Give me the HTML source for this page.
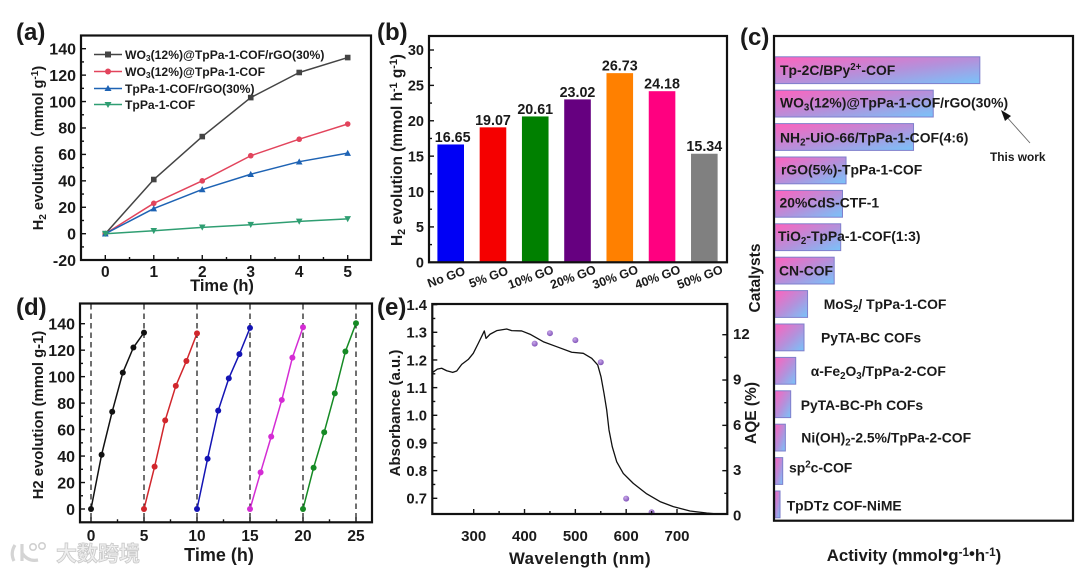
<!DOCTYPE html>
<html lang="en">
<head>
<meta charset="utf-8">
<title>Photocatalytic H2 evolution figure</title>
<style>
html,body{margin:0;padding:0;background:#fff;width:1080px;height:574px;overflow:hidden}
svg{display:block;filter:blur(.35px)}
text{font-family:"Liberation Sans","Noto Sans CJK SC",sans-serif;font-weight:bold;fill:#1a1a1a}
.frame{fill:none;stroke:#111;stroke-width:2.2}
.panel{font-size:24px}
.sub{font-size:70%}
</style>
</head>
<body>
<svg id="fig" width="1080" height="574" viewBox="0 0 1080 574" xmlns="http://www.w3.org/2000/svg">
<defs>
<linearGradient id="barGrad" x1="0" y1="0" x2="1" y2="1">
<stop offset="0" stop-color="#ff62bd"/>
<stop offset="0.55" stop-color="#b292dc"/>
<stop offset="1" stop-color="#78c4fa"/>
</linearGradient>
<radialGradient id="dotGrad" cx="0.4" cy="0.35" r="0.7">
<stop offset="0" stop-color="#c9a8ea"/>
<stop offset="1" stop-color="#7d4fb5"/>
</radialGradient>
</defs>

<g id="panelA">
<text class="panel" x="16" y="40">(a)</text>
<text x="222" y="291" font-size="16.5" text-anchor="middle">Time (h)</text>
<text transform="translate(43 148) rotate(-90)" font-size="14.5" text-anchor="middle">H<tspan class="sub" dy="3">2</tspan><tspan dy="-3"> evolution（mmol g</tspan><tspan class="sub" dy="-5">-1</tspan><tspan dy="5">)</tspan></text>
<g>
<g>
<line x1="94" x2="122" y1="54.5" y2="54.5" stroke="#444" stroke-width="1.5"/>
<rect x="105" y="51.5" width="6" height="6" fill="#444"/>
<text x="125" y="59" font-size="12.15">WO<tspan class="sub" dy="2">3</tspan><tspan dy="-2">(12%)@TpPa-1-COF/rGO(30%)</tspan></text>
</g>
<g>
<line x1="94" x2="122" y1="71.5" y2="71.5" stroke="#e2445c" stroke-width="1.5"/>
<circle cx="108" cy="71.5" r="3" fill="#e2445c"/>
<text x="125" y="76" font-size="12.15">WO<tspan class="sub" dy="2">3</tspan><tspan dy="-2">(12%)@TpPa-1-COF</tspan></text>
</g>
<g>
<line x1="94" x2="122" y1="88.5" y2="88.5" stroke="#1e63b4" stroke-width="1.5"/>
<polygon points="108,85 111.5,91 104.5,91" fill="#1e63b4"/>
<text x="125" y="93" font-size="12.15">TpPa-1-COF/rGO(30%)</text>
</g>
<g>
<line x1="94" x2="122" y1="104.5" y2="104.5" stroke="#2f9e72" stroke-width="1.5"/>
<polygon points="108,108 111.5,102 104.5,102" fill="#2f9e72"/>
<text x="125" y="109" font-size="12.15">TpPa-1-COF</text>
</g>
</g>
</g>

<g id="panelB">
<text class="panel" x="377" y="40">(b)</text>
<text transform="translate(402 150) rotate(-90)" font-size="15.4" text-anchor="middle">H<tspan class="sub" dy="3">2</tspan><tspan dy="-3"> evolution (mmol h</tspan><tspan class="sub" dy="-5">-1</tspan><tspan dy="5"> g</tspan><tspan class="sub" dy="-5">-1</tspan><tspan dy="5">)</tspan></text>
</g>

<g id="panelC">
<text class="panel" x="740" y="45">(c)</text>
<text transform="translate(760 278) rotate(-90)" font-size="15.5" text-anchor="middle">Catalysts</text>
<text x="914" y="561" font-size="16.8" text-anchor="middle">Activity (mmol<tspan dy="-2">•</tspan><tspan dy="2">g</tspan><tspan class="sub" dy="-5">-1</tspan><tspan dy="3">•</tspan><tspan dy="2">h</tspan><tspan class="sub" dy="-5">-1</tspan><tspan dy="5">)</tspan></text>
</g>

<g id="panelD">
<text class="panel" x="16" y="315">(d)</text>
<text x="219" y="561" font-size="18" text-anchor="middle">Time (h)</text>
<text transform="translate(43 415) rotate(-90)" font-size="14.8" text-anchor="middle">H2 evolution (mmol g-1)</text>
</g>

<g id="panelE">
<text class="panel" x="377" y="315">(e)</text>
<text x="580" y="564" font-size="16.8" text-anchor="middle" letter-spacing=".5">Wavelength (nm)</text>
<text transform="translate(400 413) rotate(-90)" font-size="15" text-anchor="middle">Absorbance (a.u.)</text>
<text transform="translate(756 413) rotate(-90)" font-size="15.5" text-anchor="middle">AQE (%)</text>
</g>

<g>
<path d="M15 545 Q10 553 14 561 M22 544 V561 M22 553 Q28 562 38 560" fill="none" stroke="#d4d4d4" stroke-width="3.2"/>
<circle cx="33" cy="547" r="3.2" fill="none" stroke="#d0d0d0" stroke-width="1.6"/>
<circle cx="42" cy="546" r="3.2" fill="none" stroke="#d0d0d0" stroke-width="1.6"/>
<text x="56" y="561" font-size="21" style="fill:#eeeeee;stroke:#c9c9c9;stroke-width:.8">大数跨境</text>
</g>
</svg>

<script>
// ---- Panel (a) data ----
const timeA = [0, 1, 2, 3, 4, 5];
const compositeH2 = [0, 41, 73.5, 103, 122, 133.3];
const wo3CofH2 = [0, 23, 40, 59, 71.5, 83];
const cofRgoH2 = [0, 19, 33.5, 45, 54.5, 61];
const cofH2 = [0, 2.2, 4.8, 6.8, 9.3, 11.2];
const ticksAY = [-20, 0, 20, 40, 60, 80, 100, 120, 140];

// ---- Panel (b) data ----
const goLoadings = ['No GO', '5% GO', '10% GO', '20% GO', '30% GO', '40% GO', '50% GO'];
const goRates = [16.65, 19.07, 20.61, 23.02, 26.73, 24.18, 15.34];
const goLabels = ['16.65', '19.07', '20.61', '23.02', '26.73', '24.18', '15.34'];
const ticksBY = [0, 5, 10, 15, 20, 25, 30];

// ---- Panel (c) data ----
const catalysts = ['Tp-2C/BPy^2+^-COF', 'WO~3~(12%)@TpPa-1-COF/rGO(30%)', 'NH~2~-UiO-66/TpPa-1-COF(4:6)', 'rGO(5%)-TpPa-1-COF', '20%CdS-CTF-1', 'TiO~2~-TpPa-1-COF(1:3)', 'CN-COF', 'MoS~2~/ TpPa-1-COF', 'PyTA-BC COFs', 'α-Fe~2~O~3~/TpPa-2-COF', 'PyTA-BC-Ph COFs', 'Ni(OH)~2~-2.5%/TpPa-2-COF', 'sp^2^c-COF', 'TpDTz COF-NiME'];
const activity = [34.6, 26.73, 23.4, 12.0, 11.4, 11.1, 10.0, 5.5, 4.9, 3.5, 2.65, 1.75, 1.3, 0.85];

// ---- Panel (d) data ----
const timeCycle = [0, 1, 2, 3, 4, 5];
const cycleStarts = [0, 5, 10, 15, 20];
const cycle1 = [0, 41, 73.5, 103, 122, 133.3];
const cycle2 = [0, 32, 67, 93, 111.8, 132.7];
const cycle3 = [0, 38, 74.3, 98.7, 117, 136.8];
const cycle4 = [0, 27.7, 54.7, 82.4, 114.4, 137.3];
const cycle5 = [0, 31.2, 58, 87.4, 119, 140.3];
const ticksDX = [0, 5, 10, 15, 20, 25];
const ticksDY = [0, 20, 40, 60, 80, 100, 120, 140];

// ---- Panel (e) data ----
const wavelengths = [219.3, 228.4, 237, 246.9, 258.7, 266.6, 276.4, 289.4, 299.2, 309, 320.9, 324.2, 332.1, 345.3, 364.9, 374.7, 394.4, 410.8, 436.9, 463.3, 492.8, 515.6, 532.2, 544, 550.5, 556.4, 561.7, 566.2, 572.7, 581.4, 594.3, 614, 640.4, 666.6, 692.7, 725.6, 758.4, 788, 799];
const absorbance = [1.155, 1.167, 1.17, 1.161, 1.155, 1.16, 1.184, 1.202, 1.224, 1.26, 1.305, 1.278, 1.293, 1.306, 1.312, 1.306, 1.305, 1.293, 1.266, 1.248, 1.228, 1.224, 1.206, 1.182, 1.139, 1.079, 1.019, 0.947, 0.886, 0.832, 0.79, 0.754, 0.716, 0.688, 0.67, 0.654, 0.647, 0.642, 0.643];
const aqeWavelengths = [420, 450, 500, 550, 600, 650];
const aqeValues = [11.41, 12.1, 11.64, 10.18, 1.15, 0.25];
const ticksEX = [300, 400, 500, 600, 700];
const ticksEY = ['0.7', '0.8', '0.9', '1.0', '1.1', '1.2', '1.3', '1.4'];
const ticksER = [0, 3, 6, 9, 12];

const NS = 'http://www.w3.org/2000/svg';
function mk(tag, attrs, parent) {
  const el = document.createElementNS(NS, tag);
  for (const k in attrs) el.setAttribute(k, attrs[k]);
  parent.appendChild(el);
  return el;
}
function linear(d0, d1, r0, r1) {
  return v => r0 + (v - d0) * (r1 - r0) / (d1 - d0);
}
function label(parent, str, x, y, size, anchor, name, transform) {
  const el = mk('text', {x: x, y: y, 'font-size': size, 'text-anchor': anchor}, parent);
  
  
  if (transform) el.setAttribute('transform', transform);
  const parts = str.split(/([~^][^~^]*[~^])/).filter(Boolean);
  let shift = 0;
  parts.forEach(p => {
    const ts = mk('tspan', {}, el);
    let want = 0;
    if (p[0] === '~') { want = 3; p = p.slice(1, -1); ts.setAttribute('class', 'sub'); }
    else if (p[0] === '^') { want = -5; p = p.slice(1, -1); ts.setAttribute('class', 'sub'); }
    if (want !== shift) ts.setAttribute('dy', want - shift);
    shift = want;
    ts.textContent = p;
  });
  return el;
}
function frame(parent, x0, y0, x1, y1, name) {
  const el = mk('rect', {x: x0, y: y0, width: x1 - x0, height: y1 - y0, class: 'frame'}, parent);
  
  
}
function tick(parent, x1, y1, x2, y2, name) {
  const el = mk('line', {x1: x1, y1: y1, x2: x2, y2: y2, stroke: '#111', 'stroke-width': 1.4}, parent);
  
  
}
function xTicks(parent, values, sx, yBase, yLabel, size, name) {
  values.forEach((v, i) => {
    tick(parent, sx(v), yBase, sx(v), yBase - 5, name + '-tick');
    if (i < values.length - 1) {
      const m = sx((v + values[i + 1]) / 2);
      tick(parent, m, yBase, m, yBase - 3, name + '-minor-tick');
    }
    label(parent, String(v), sx(v), yLabel, size, 'middle', name + '-tick-label');
  });
}
function yTicks(parent, values, sy, xBase, xLabel, size, name) {
  values.forEach((v, i) => {
    const n = Number(v);
    tick(parent, xBase, sy(n), xBase + 5, sy(n), name + '-tick');
    if (i < values.length - 1) {
      const m = sy((n + Number(values[i + 1])) / 2);
      tick(parent, xBase, m, xBase + 3, m, name + '-minor-tick');
    }
    label(parent, String(v), xLabel, sy(n) + size * 0.36, size, 'end', name + '-tick-label');
  });
}
function polyline(parent, xs, ys, sx, sy, color, width, name) {
  const d = xs.map((x, i) => (i ? 'L' : 'M') + sx(x).toFixed(2) + ' ' + sy(ys[i]).toFixed(2)).join('');
  const el = mk('path', {d: d, fill: 'none', stroke: color, 'stroke-width': width, 'stroke-linejoin': 'round'}, parent);
  
  
}
function marker(parent, kind, cx, cy, r, color, name) {
  let el;
  if (kind === 'square') el = mk('rect', {x: cx - r, y: cy - r, width: 2 * r, height: 2 * r, fill: color}, parent);
  else if (kind === 'circle') el = mk('circle', {cx: cx, cy: cy, r: r, fill: color}, parent);
  else if (kind === 'up') el = mk('polygon', {points: [cx, cy - r - 0.5, cx + r + 0.5, cy + r, cx - r - 0.5, cy + r].join(' '), fill: color}, parent);
  else el = mk('polygon', {points: [cx, cy + r + 0.5, cx + r + 0.5, cy - r, cx - r - 0.5, cy - r].join(' '), fill: color}, parent);
  
  
}

// Panel (a)
(function () {
  const g = document.getElementById('panelA');
  const sx = linear(0, 5, 105.3, 347.7);
  const sy = linear(0, 140, 233.7, 48.7);
  const series = [
    [compositeH2, '#444444', 'square', 'series-composite'],
    [wo3CofH2, '#e2445c', 'circle', 'series-wo3-cof'],
    [cofRgoH2, '#1e63b4', 'up', 'series-cof-rgo'],
    [cofH2, '#2f9e72', 'down', 'series-cof']
  ];
  series.forEach(s => {
    polyline(g, timeA, s[0], sx, sy, s[1], 1.5, s[3] + '-line');
    timeA.forEach((t, i) => marker(g, s[2], sx(t), sy(s[0][i]), 2.8, s[1], s[3] + '-point'));
  });
  frame(g, 81, 35.5, 371, 260, 'panel-a-frame');
  xTicks(g, timeA, sx, 260, 277, 15.5, 'panel-a-x');
  yTicks(g, ticksAY, sy, 81, 76, 16, 'panel-a-y');
})();

// Panel (b)
(function () {
  const g = document.getElementById('panelB');
  const sy = linear(0, 30, 262.3, 50);
  const cx = i => 450.7 + i * 42.27;
  goRates.forEach((v, i) => {
    const colors = ['#0000f5', '#f50000', '#008000', '#660080', '#ff8000', '#ff0080', '#808080'];
    const bar = mk('rect', {x: cx(i) - 13.3, y: sy(v), width: 26.6, height: sy(0) - sy(v), fill: colors[i]}, g);
    
    
    label(g, goLabels[i], cx(i) + (i === 0 ? 2 : 0), sy(v) - 2.5, 14.3, 'middle', 'go-bar-value');
    const lx = cx(i) - 3, ly = 281;
    label(g, goLoadings[i], lx, ly, 12.4, 'middle', 'go-category-label', 'rotate(-20 ' + lx + ' ' + ly + ')');
  });
  frame(g, 429, 36, 727, 262.3, 'panel-b-frame');
  yTicks(g, ticksBY, sy, 429, 424, 14.5, 'panel-b-y');
})();

// Panel (c)
(function () {
  const g = document.getElementById('panelC');
  const sx = v => 775 + v * 5.92;
  const rowY = i => 56.8 + i * 33.4;
  const labelX = [780, 780, 780, 781, 779.5, 778, 779, 823.7, 821, 810.7, 800.7, 801.3, 789, 786.7];
  const labelY = [75, 107.7, 142.3, 174.7, 207.7, 241, 275.7, 309, 342.3, 376, 410, 442.7, 472.3, 510.3];
  activity.forEach((v, i) => {
    const bar = mk('rect', {x: 775, y: rowY(i), width: sx(v) - 775, height: 26.8, fill: 'url(#barGrad)', stroke: '#7f7fcc', 'stroke-width': 1}, g);
    
    
  });
  frame(g, 774, 36, 1073, 520.7, 'panel-c-frame');
  catalysts.forEach((c, i) => {
    label(g, c, labelX[i], labelY[i], 13.9, 'start', 'catalyst-label');
  });
  label(g, 'This work', 990, 161, 11.9, 'start', 'this-work-annotation');
  const arrow = mk('line', {x1: 1030, y1: 143, x2: 1005, y2: 115, stroke: '#666', 'stroke-width': 0.9}, g);
  
  
  const head = mk('polygon', {points: '1001,110 1011,116 1005,121', fill: '#111'}, g);
  
  
})();

// Panel (d)
(function () {
  const g = document.getElementById('panelD');
  const sx = linear(0, 25, 91, 356);
  const sy = linear(0, 140, 509, 323.7);
  ticksDX.forEach(t => {
    const el = mk('line', {x1: sx(t), x2: sx(t), y1: 304, y2: 522, stroke: '#111', 'stroke-width': 1.2, 'stroke-dasharray': '5.5 4'}, g);
    
    
  });
  const cycles = [cycle1, cycle2, cycle3, cycle4, cycle5];
  const colors = ['#111111', '#d1262c', '#1414b4', '#d42cd4', '#158a24'];
  cycles.forEach((ys, c) => {
    const xs = timeCycle.map(t => t + cycleStarts[c]);
    polyline(g, xs, ys, sx, sy, colors[c], 1.5, 'cycle-line');
    xs.forEach((t, i) => marker(g, 'circle', sx(t), sy(ys[i]), 3, colors[c], 'cycle-point'));
  });
  frame(g, 80, 303.5, 372, 522.3, 'panel-d-frame');
  xTicks(g, ticksDX, sx, 522.3, 541, 15.5, 'panel-d-x');
  yTicks(g, ticksDY, sy, 80, 75, 16, 'panel-d-y');
})();

// Panel (e)
(function () {
  const g = document.getElementById('panelE');
  const sx = linear(300, 700, 473.7, 677);
  const sy = linear(0.7, 1.3, 498.3, 332.3);
  const sr = linear(0, 12, 516, 334.7);
  polyline(g, wavelengths, absorbance, sx, sy, '#111', 1.3, 'absorbance-curve');
  aqeWavelengths.forEach((w, i) => {
    const dot = mk('circle', {cx: sx(w), cy: sr(aqeValues[i]), r: 3, fill: 'url(#dotGrad)'}, g);
    
    
  });
  frame(g, 432.3, 304, 727.3, 514, 'panel-e-frame');
  xTicks(g, ticksEX, sx, 514, 541, 15, 'panel-e-x');
  yTicks(g, ticksEY, sy, 432.3, 427, 14.8, 'panel-e-y');
  ticksER.forEach((v, i) => {
    if (v > 0) tick(g, 727.3, sr(v), 722.3, sr(v), 'panel-e-right-tick');
    if (i < ticksER.length - 1) {
      const m = sr((v + ticksER[i + 1]) / 2);
      tick(g, 727.3, m, 724.3, m, 'panel-e-right-minor-tick');
    }
    label(g, String(v), 733, sr(v) + 4.5, 15, 'start', 'panel-e-right-tick-label');
  });
})();
</script>
</body>
</html>
